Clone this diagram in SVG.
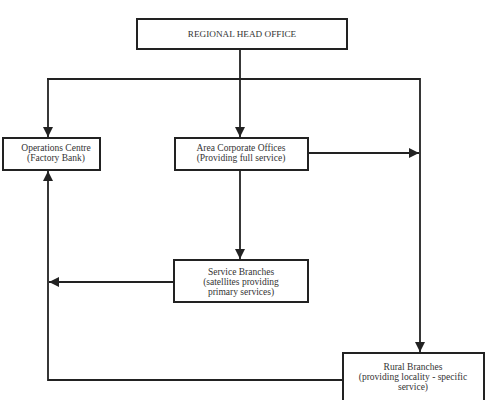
<svg xmlns="http://www.w3.org/2000/svg" width="490" height="400" viewBox="0 0 490 400">
<defs>
<style>
.box{fill:#fff;stroke:#222;stroke-width:2}
.ln{fill:none;stroke:#222;stroke-width:1.8}
text{font-family:"Liberation Serif","Times New Roman",serif;font-size:9.5px;fill:#333;text-anchor:middle}
.cap{font-size:9.2px}
</style>
<marker id="ah" viewBox="0 0 10 10" refX="10" refY="5" markerWidth="10" markerHeight="10" markerUnits="userSpaceOnUse" orient="auto">
<path d="M0,0 L10,5 L0,10 Z" fill="#222"/>
</marker>
</defs>
<rect width="490" height="400" fill="#fff"/>
<g id="connectors">
<line class="ln" x1="240" y1="49" x2="240" y2="137" marker-end="url(#ah)"/>
<line class="ln" x1="48" y1="79" x2="48" y2="137" marker-end="url(#ah)"/>
<polyline class="ln" points="47,79 420,79 420,352" marker-end="url(#ah)"/>
<line class="ln" x1="308" y1="153" x2="419" y2="153" marker-end="url(#ah)"/>
<line class="ln" x1="240" y1="170" x2="240" y2="259" marker-end="url(#ah)"/>
<line class="ln" x1="173" y1="282" x2="49" y2="282" marker-end="url(#ah)"/>
<polyline class="ln" points="343,380 48,380 48,171" marker-end="url(#ah)"/>
</g>
<g id="head">
<rect class="box" x="137" y="19" width="210" height="30"/>
<text class="cap" x="242" y="37">REGIONAL HEAD OFFICE</text>
</g>
<g id="ops">
<rect class="box" x="3" y="138" width="97" height="32"/>
<text x="56" y="151">Operations Centre</text>
<text x="56" y="161">(Factory Bank)</text>
</g>
<g id="area">
<rect class="box" x="175" y="138" width="133" height="32"/>
<text x="241" y="151">Area Corporate Offices</text>
<text x="241" y="161">(Providing full service)</text>
</g>
<g id="service">
<rect class="box" x="174" y="260" width="134" height="42"/>
<text x="241" y="275">Service Branches</text>
<text x="241" y="285">(satellites providing</text>
<text x="241" y="295">primary services)</text>
</g>
<g id="rural">
<rect class="box" x="343" y="353" width="141" height="52"/>
<text x="413" y="370">Rural Branches</text>
<text x="413" y="380">(providing locality - specific</text>
<text x="413" y="390">service)</text>
</g>
</svg>
